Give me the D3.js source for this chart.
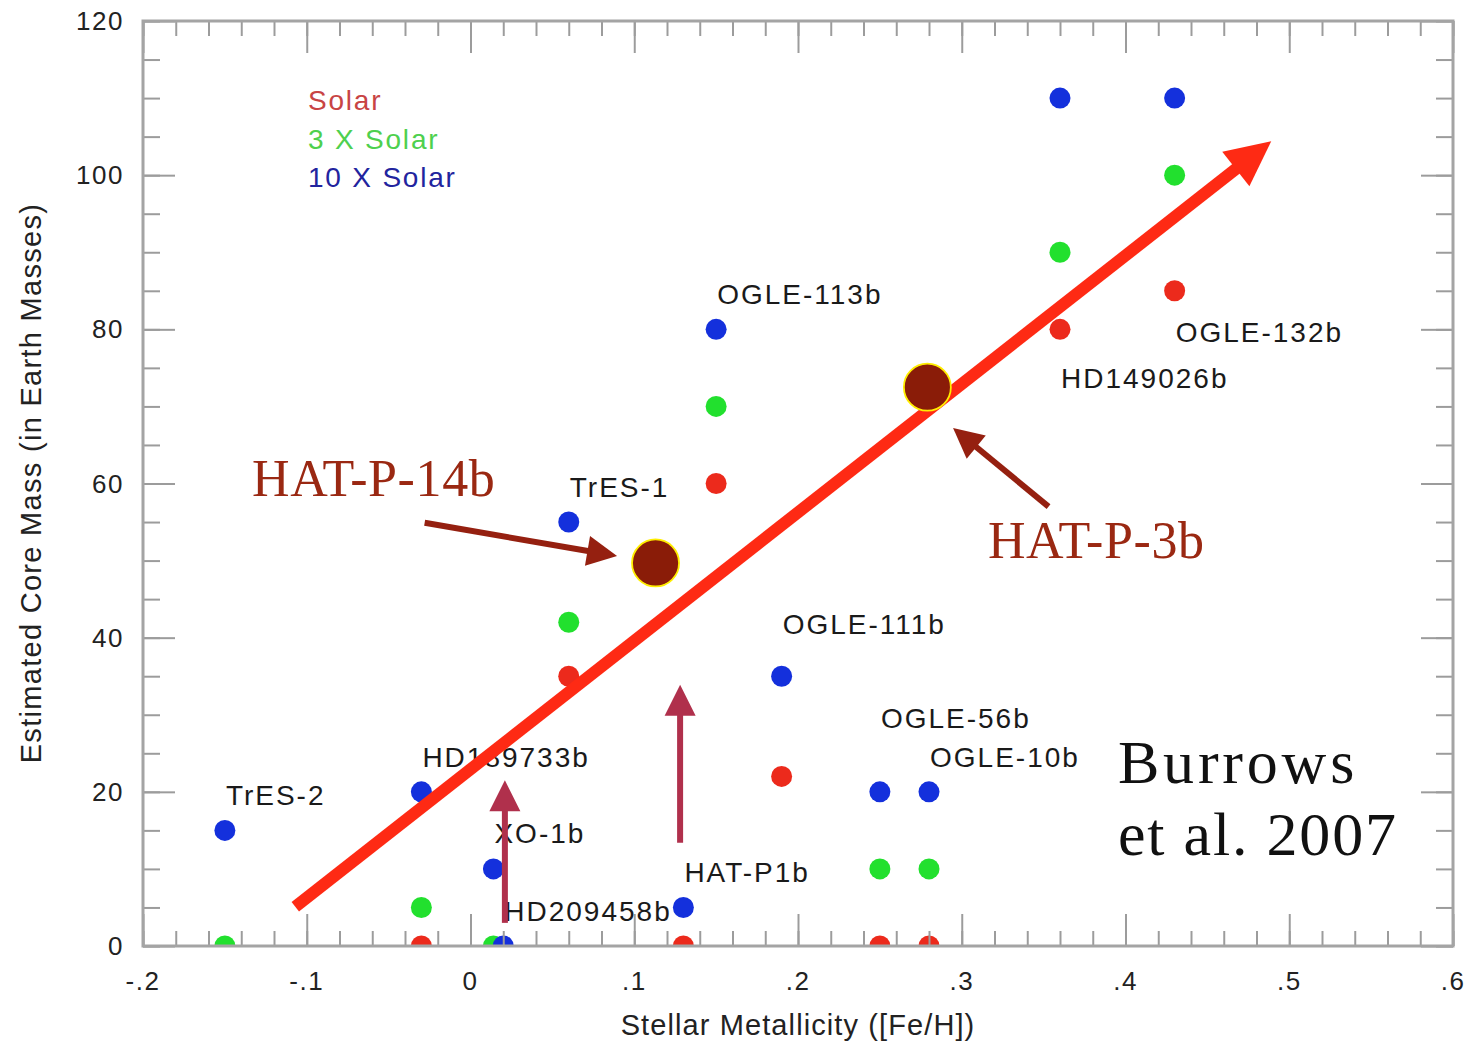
<!DOCTYPE html>
<html>
<head>
<meta charset="utf-8">
<script src="https://cdn.jsdelivr.net/npm/d3@7"></script>
<style>
  html, body { margin: 0; padding: 0; background: #ffffff; }
  svg { display: block; }
  .sans { font-family: "Liberation Sans", Arial, Helvetica, sans-serif; }
  .serif { font-family: "Liberation Serif", "Times New Roman", serif; }
</style>
</head>
<body>
<svg id="chart" width="1474" height="1046"></svg>
<script>
// Planets and their host-star metallicity [Fe/H]
const planets = ["TrES-2", "HD189733b", "XO-1b", "HD209458b", "TrES-1", "HAT-P1b",
                 "OGLE-113b", "OGLE-111b", "OGLE-56b", "OGLE-10b", "HD149026b", "OGLE-132b"];
const feh = [-0.15, -0.03, 0.014, 0.02, 0.06, 0.13, 0.15, 0.19, 0.25, 0.28, 0.36, 0.43];

// Estimated core mass (Earth masses) for three atmospheric opacities
const massSolar   = [null, 0,    null, null, 35, 0,    60, 22,   0,  0,  80,  85];
const mass3xSolar = [0,    5,    0,    null, 42, null, 70, null, 10, 10, 90,  100];
const mass10xSolar= [15,   20,   10,   0,    55, 5,    80, 35,   20, 20, 110, 110];

// Where each planet name sits (core-mass units of its baseline)
const labelMass = [18.3, 23.2, 13.4, 3.2, 58.3, 8.3, 83.3, 40.5, 28.3, 23.2, 72.4, 78.4];

// Series legend
const seriesNames = ["Solar", "3 X Solar", "10 X Solar"];

// Axis ticks
const xTickValues = [-0.2, -0.1, 0, 0.1, 0.2, 0.3, 0.4, 0.5, 0.6];
const xTickLabels = ["-.2", "-.1", "0", ".1", ".2", ".3", ".4", ".5", ".6"];
const yTickValues = [0, 20, 40, 60, 80, 100, 120];
const yTickLabels = ["0", "20", "40", "60", "80", "100", "120"];

// Newly measured planets
const newPlanets = ["HAT-P-14b", "HAT-P-3b"];
const newFeh = [0.113, 0.279];
const newMass = [49.7, 72.5];

// Overall trend arrow: [feh, mass] tail and tip
const trendTail = [-0.107, 5.1];
const trendTip = [0.489, 104.4];

// Pointers from the new-planet labels to their circles
const pointerTail = [[-0.028, 54.9], [0.353, 57.0]];
const pointerTip  = [[0.0895, 50.6], [0.2947, 67.2]];
const newLabelAt  = [[-0.1334, 58.4], [0.316, 50.3]];

// Upward markers
const markerFeh  = [0.021, 0.128];
const markerFrom = [3.0, 13.4];
const markerTo   = [21.5, 33.9];

// Citation
const citeLines = ["Burrows", "et al. 2007"];
const citeAt = [[0.3954, 21.1], [0.3954, 11.8]];
const citeSpacing = [3.8, 1.8];

// ---------------------------------------------------------------
const svg = d3.select("#chart");
const margin = { left: 143, top: 21, right: 21, bottom: 100 };
const W = 1474, H = 1046;
const plotW = W - margin.left - margin.right;   // 1310
const plotH = H - margin.top - margin.bottom;   // 925

const x = d3.scaleLinear().domain([-0.2, 0.6]).range([0, plotW]);
const y = d3.scaleLinear().domain([0, 120]).range([plotH, 0]);

svg.append("defs").append("clipPath").attr("id", "plot-clip")
  .append("rect").attr("x", 0).attr("y", 0).attr("width", plotW).attr("height", plotH);

const g = svg.append("g").attr("transform", `translate(${margin.left},${margin.top})`);

const frameColor = "#a4a4a4";
const tickColor = "#9c9c9c";

// Series dots: drawn Solar, then 3x, then 10x on top; clipped to the frame
const seriesColors = ["#ec2a1c", "#22e02e", "#1430dc"];
const seriesMass = [massSolar, mass3xSolar, mass10xSolar];
const dotsG = g.append("g").attr("clip-path", "url(#plot-clip)");
seriesMass.forEach((arr, s) => {
  const pts = arr.map((m, i) => ({ f: feh[i], m })).filter(p => p.m !== null);
  dotsG.append("g").selectAll("circle").data(pts).join("circle")
    .attr("cx", d => x(d.f)).attr("cy", d => y(d.m)).attr("r", 10.5)
    .attr("fill", seriesColors[s]);
});

// Minor and major ticks on all four sides, pointing inward
const xMinor = d3.range(-0.2, 0.6001, 0.02).map(v => +v.toFixed(2));
const yMinor = d3.range(0, 120.001, 5);

function tickAxis(axisFn, scale, values, size) {
  return axisFn(scale).tickValues(values).tickSize(size).tickFormat("");
}

const axesG = g.append("g").attr("class", "ticks");
[
  [d3.axisBottom, x, xMinor, -15, `translate(0,${plotH})`],
  [d3.axisBottom, x, xTickValues, -32, `translate(0,${plotH})`],
  [d3.axisTop, x, xMinor, -15, "translate(0,0)"],
  [d3.axisTop, x, xTickValues, -32, "translate(0,0)"],
  [d3.axisLeft, y, yMinor, -17, "translate(0,0)"],
  [d3.axisLeft, y, yTickValues, -32, "translate(0,0)"],
  [d3.axisRight, y, yMinor, -17, `translate(${plotW},0)`],
  [d3.axisRight, y, yTickValues, -32, `translate(${plotW},0)`]
].forEach(([fn, sc, vals, sz, tr]) => {
  const a = axesG.append("g").attr("transform", tr).call(tickAxis(fn, sc, vals, sz));
  a.select(".domain").remove();
  a.selectAll(".tick line").attr("stroke", tickColor).attr("stroke-width", 2);
});

// Plot frame
g.append("rect")
  .attr("x", 0).attr("y", 0).attr("width", plotW).attr("height", plotH)
  .attr("fill", "none").attr("stroke", frameColor).attr("stroke-width", 3);

// Tick labels
const tickFont = { size: 26, spacing: 1.5, color: "#222" };
g.append("g").selectAll("text").data(xTickValues).join("text")
  .attr("class", "sans")
  .attr("x", d => x(d)).attr("y", plotH + 44)
  .attr("text-anchor", "middle")
  .attr("font-size", tickFont.size).attr("letter-spacing", tickFont.spacing)
  .attr("fill", tickFont.color)
  .text((d, i) => xTickLabels[i]);

g.append("g").selectAll("text").data(yTickValues).join("text")
  .attr("class", "sans")
  .attr("x", -19).attr("y", d => y(d) + 9)
  .attr("text-anchor", "end")
  .attr("font-size", tickFont.size).attr("letter-spacing", tickFont.spacing)
  .attr("fill", tickFont.color)
  .text((d, i) => yTickLabels[i]);

// Axis titles
svg.append("text").attr("class", "sans")
  .attr("x", margin.left + x(0.2)).attr("y", 1035)
  .attr("text-anchor", "middle")
  .attr("font-size", 29).attr("letter-spacing", 1.1).attr("fill", "#222")
  .text("Stellar Metallicity ([Fe/H])");

svg.append("text").attr("class", "sans")
  .attr("transform", `translate(41,${margin.top + 462}) rotate(-90)`)
  .attr("text-anchor", "middle")
  .attr("font-size", 29).attr("letter-spacing", 1.3).attr("fill", "#222")
  .text("Estimated Core Mass (in Earth Masses)");

// Planet names
g.append("g").selectAll("text").data(planets).join("text")
  .attr("class", "sans")
  .attr("x", (d, i) => x(feh[i]) + 1).attr("y", (d, i) => y(labelMass[i]))
  .attr("font-size", 28).attr("letter-spacing", 2).attr("fill", "#1a1a1a")
  .text(d => d);

// Legend
const legendColors = ["#c84444", "#4ed04e", "#22249e"];
g.append("g").selectAll("text").data(seriesNames).join("text")
  .attr("class", "sans")
  .attr("x", 165).attr("y", (d, i) => 89 + i * 38.5)
  .attr("font-size", 28).attr("letter-spacing", 1.8)
  .attr("fill", (d, i) => legendColors[i])
  .text(d => d);

// Arrow helper: shaft plus triangular head, all from data coordinates
function arrow(parent, tail, tip, color, width, headLen, headHalf) {
  const x1 = x(tail[0]), y1 = y(tail[1]);
  const x2 = x(tip[0]), y2 = y(tip[1]);
  const dx = x2 - x1, dy = y2 - y1, L = Math.hypot(dx, dy);
  const ux = dx / L, uy = dy / L, nx = -uy, ny = ux;
  const bx = x2 - ux * headLen, by = y2 - uy * headLen;
  parent.append("line")
    .attr("x1", x1).attr("y1", y1)
    .attr("x2", bx + ux * 2).attr("y2", by + uy * 2)
    .attr("stroke", color).attr("stroke-width", width);
  parent.append("polygon")
    .attr("points", [[x2, y2], [bx + nx * headHalf, by + ny * headHalf], [bx - nx * headHalf, by - ny * headHalf]]
      .map(p => p.join(",")).join(" "))
    .attr("fill", color);
}

const annG = g.append("g");

// Upward markers
markerFeh.forEach((f, i) => {
  arrow(annG, [f, markerFrom[i]], [f, markerTo[i]], "#b0304c", 6, 31, 15.5);
});

// Trend arrow
arrow(annG, trendTail, trendTip, "#fe2a14", 12, 45, 22);

// New planets
annG.append("g").selectAll("circle").data(newPlanets).join("circle")
  .attr("cx", (d, i) => x(newFeh[i])).attr("cy", (d, i) => y(newMass[i]))
  .attr("r", 23.5)
  .attr("fill", "#8a1c08").attr("stroke", "#ffee00").attr("stroke-width", 1.8);

pointerTail.forEach((t, i) => {
  arrow(annG, t, pointerTip[i], "#952010", 6, 30, 15);
});

annG.append("g").selectAll("text").data(newPlanets).join("text")
  .attr("class", "serif")
  .attr("x", (d, i) => x(newLabelAt[i][0])).attr("y", (d, i) => y(newLabelAt[i][1]))
  .attr("font-size", 52).attr("letter-spacing", 0.6).attr("fill", "#9a2812")
  .text(d => d);

// Citation
annG.append("g").selectAll("text").data(citeLines).join("text")
  .attr("class", "serif")
  .attr("x", (d, i) => x(citeAt[i][0])).attr("y", (d, i) => y(citeAt[i][1]))
  .attr("font-size", 62).attr("letter-spacing", (d, i) => citeSpacing[i]).attr("fill", "#111")
  .text(d => d);
</script>
</body>
</html>
